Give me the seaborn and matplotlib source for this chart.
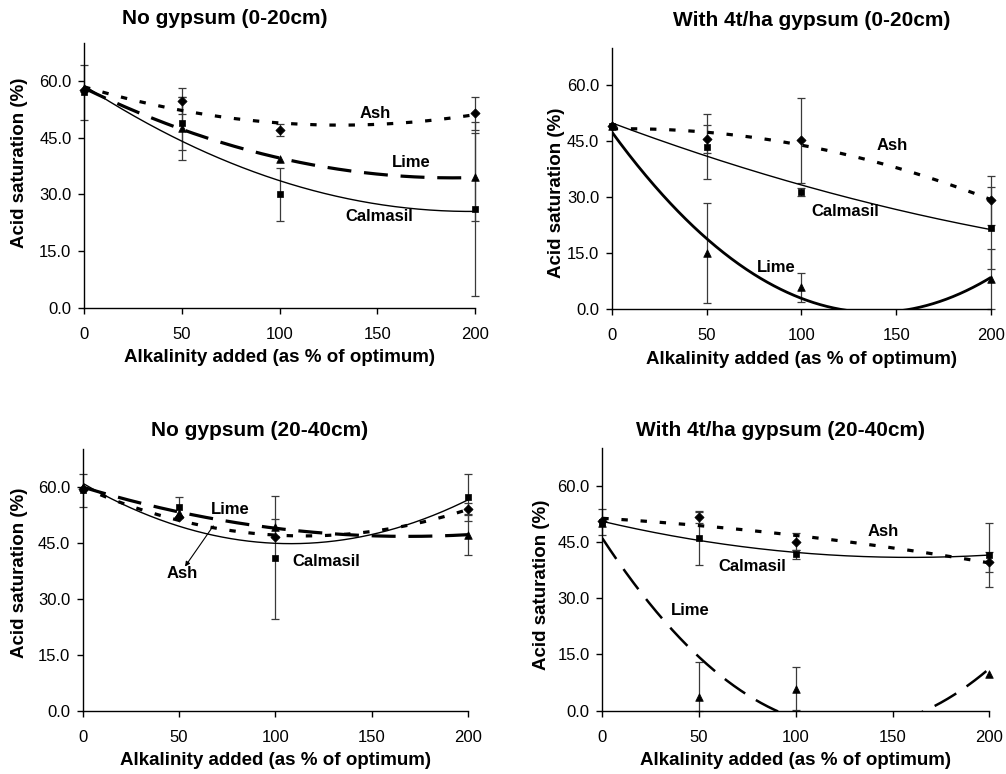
import numpy as np
import pandas as pd
import matplotlib
matplotlib.use("Agg")
import matplotlib.pyplot as plt
import seaborn as sns

# ---------------------------------------------------------------- data
alkalinity = [0, 50, 100, 200]          # % of optimum alkalinity added
y_ticks = [0, 15, 30, 45, 60]
x_ticks = [0, 50, 100, 150, 200]

# No gypsum, 0-20 cm
ng_top_ash = [57.5, 54.7, 47.0, 51.4]
ng_top_ash_err = [0.0, 3.5, 1.5, 4.4]
ng_top_lime = [58.0, 47.5, 39.4, 34.5]
ng_top_lime_err = [0.0, 8.3, 0.0, 11.6]
ng_top_calm = [57.0, 48.8, 30.1, 26.1]
ng_top_calm_err = [7.3, 7.0, 7.0, 23.0]

# With 4 t/ha gypsum, 0-20 cm
g_top_ash = [49.0, 45.6, 45.3, 29.1]
g_top_ash_err = [0.0, 3.7, 11.4, 6.7]
g_top_lime = [49.0, 15.0, 5.8, 8.0]
g_top_lime_err = [0.0, 13.3, 3.8, 8.0]
g_top_calm = [49.0, 43.5, 31.4, 21.6]
g_top_calm_err = [0.0, 8.7, 1.0, 11.0]

# No gypsum, 20-40 cm
ng_sub_ash = [59.5, 51.8, 46.4, 54.0]
ng_sub_ash_err = [0.0, 0.0, 0.0, 1.5]
ng_sub_lime = [60.0, 52.9, 49.1, 47.1]
ng_sub_lime_err = [0.0, 0.0, 2.3, 5.5]
ng_sub_calm = [59.0, 54.5, 41.0, 57.1]
ng_sub_calm_err = [4.4, 2.8, 16.5, 6.3]

# With 4 t/ha gypsum, 20-40 cm
g_sub_ash = [50.5, 51.6, 45.1, 39.7]
g_sub_ash_err = [0.0, 1.6, 2.2, 2.6]
g_sub_lime = [50.0, 3.7, 5.9, 9.9]
g_sub_lime_err = [0.0, 9.2, 5.8, 0.0]
g_sub_calm = [50.3, 46.0, 41.8, 41.6]
g_sub_calm_err = [3.4, 7.0, 1.2, 8.5]

titles = ["No gypsum (0-20cm)", "With 4t/ha gypsum (0-20cm)",
          "No gypsum (20-40cm)", "With 4t/ha gypsum (20-40cm)"]
x_title = "Alkalinity added (as % of optimum)"
y_title = "Acid saturation (%)"

# ---------------------------------------------------------------- styling
sns.set_style("ticks")
plt.rcParams["font.family"] = ["Liberation Sans", "DejaVu Sans"]
plt.rcParams["text.color"] = "black"
plt.rcParams["axes.labelcolor"] = "black"
plt.rcParams["xtick.color"] = "black"
plt.rcParams["ytick.color"] = "black"
plt.rcParams["lines.solid_capstyle"] = "butt"
plt.rcParams["lines.dash_capstyle"] = "butt"

W, H = 1006, 774
fig = plt.figure(figsize=(W / 100, H / 100), dpi=100)
fig.patch.set_facecolor("white")

markers = {"Ash": "D", "Lime": "^", "Calmasil": "s"}
marker_size = {"Ash": 22, "Lime": 30, "Calmasil": 24}

panels = [
    dict(box=(84, 43, 475, 308), title_xy=(225, 18),
         values={"Ash": (ng_top_ash, ng_top_ash_err),
                 "Lime": (ng_top_lime, ng_top_lime_err),
                 "Calmasil": (ng_top_calm, ng_top_calm_err)},
         styles={"Ash": dict(lw=2.3, ls=(0, (2.0, 4.0))),
                 "Lime": dict(lw=2.3, ls=(0, (7.5, 4.0))),
                 "Calmasil": dict(lw=1.0, ls="-")},
         labels={"Ash": (148.8, 51.5), "Lime": (167.6, 38.4),
                 "Calmasil": (151.0, 24.1)},
         ylab=(20, 162.5)),
    dict(box=(611.7, 48, 991, 309), title_xy=(812, 21),
         values={"Ash": (g_top_ash, g_top_ash_err),
                 "Lime": (g_top_lime, g_top_lime_err),
                 "Calmasil": (g_top_calm, g_top_calm_err)},
         styles={"Ash": dict(lw=2.3, ls=(0, (2.0, 4.0))),
                 "Lime": dict(lw=2.0, ls="-"),
                 "Calmasil": dict(lw=1.0, ls="-")},
         labels={"Ash": (148.0, 43.8), "Lime": (86.6, 11.2),
                 "Calmasil": (123.4, 26.2)},
         ylab=(556.7, 193)),
    dict(box=(82.7, 449.3, 468, 710.7), title_xy=(260, 431),
         values={"Ash": (ng_sub_ash, ng_sub_ash_err),
                 "Lime": (ng_sub_lime, ng_sub_lime_err),
                 "Calmasil": (ng_sub_calm, ng_sub_calm_err)},
         styles={"Ash": dict(lw=2.3, ls=(0, (2.0, 4.0))),
                 "Lime": dict(lw=2.3, ls=(0, (7.5, 4.0))),
                 "Calmasil": dict(lw=1.0, ls="-")},
         labels={"Ash": (51.7, 36.8), "Lime": (76.8, 53.8),
                 "Calmasil": (126.6, 39.9)},
         arrow=((67.8, 49.5), (53.1, 38.6)),
         ylab=(20, 572.5)),
    dict(box=(602.3, 448.3, 989.3, 710.7), title_xy=(780, 430),
         values={"Ash": (g_sub_ash, g_sub_ash_err),
                 "Lime": (g_sub_lime, g_sub_lime_err),
                 "Calmasil": (g_sub_calm, g_sub_calm_err)},
         styles={"Ash": dict(lw=2.3, ls=(0, (2.0, 4.0))),
                 "Lime": dict(lw=1.8, ls=(0, (10.0, 5.0))),
                 "Calmasil": dict(lw=1.0, ls="-")},
         labels={"Ash": (145.2, 47.8), "Lime": (45.3, 26.8),
                 "Calmasil": (77.5, 38.6)},
         ylab=(541.7, 585)),
]

x_curve = np.linspace(0, 200, 401)

for p, title in zip(panels, titles):
    left, top, right, bottom = p["box"]
    ax = fig.add_axes([left / W, 1 - bottom / H, (right - left) / W, (bottom - top) / H])
    ax.set_facecolor("white")

    rows = []
    for name, (vals, errs) in p["values"].items():
        for xv, yv, ev in zip(alkalinity, vals, errs):
            rows.append({"alkalinity": xv, "acid": yv, "err": ev, "treatment": name})
    df = pd.DataFrame(rows)

    # error bars (lower arm stops at the axis floor)
    for name, sub in df.groupby("treatment", sort=False):
        lower = np.minimum(sub["err"].values, sub["acid"].values)
        upper = sub["err"].values
        keep = upper > 0
        if keep.any():
            ax.errorbar(sub["alkalinity"].values[keep], sub["acid"].values[keep],
                        yerr=[lower[keep], upper[keep]], fmt="none",
                        ecolor="#3a3a3a", elinewidth=0.9, capsize=3.2,
                        capthick=0.9, clip_on=False, zorder=2)

    # second-order polynomial trend line for each treatment
    for name, sub in df.groupby("treatment", sort=False):
        coef = np.polyfit(sub["alkalinity"], sub["acid"], 2)
        st = p["styles"][name]
        sns.lineplot(x=x_curve, y=np.polyval(coef, x_curve), ax=ax, color="black",
                     linewidth=st["lw"], linestyle=st["ls"], zorder=3)

    # measured means
    for name, sub in df.groupby("treatment", sort=False):
        sns.scatterplot(data=sub, x="alkalinity", y="acid", ax=ax,
                        marker=markers[name], s=marker_size[name], color="black",
                        edgecolor="black", linewidth=0.5, legend=False,
                        clip_on=False, zorder=4)

    for name, (lx, ly) in p["labels"].items():
        ax.text(lx, ly, name, ha="center", va="center", fontsize=12,
                fontweight="bold", color="black", zorder=6)
    if "arrow" in p:
        (x0, y0), (x1, y1) = p["arrow"]
        ax.annotate("", xy=(x1, y1), xytext=(x0, y0),
                    arrowprops=dict(arrowstyle="-|>", color="black", lw=0.8,
                                    mutation_scale=7, shrinkA=0, shrinkB=0))

    ax.set_xlim(0, 200)
    ax.set_ylim(0, 70)
    ax.set_xticks(x_ticks)
    ax.set_yticks(y_ticks)
    ax.set_yticklabels([f"{v:.1f}" for v in y_ticks])
    sns.despine(ax=ax)
    for s in ("left", "bottom"):
        ax.spines[s].set_color("black")
        ax.spines[s].set_linewidth(1.0)
    ax.tick_params(axis="both", direction="out", length=4, width=1.0,
                   color="black", labelsize=12, labelcolor="black")
    ax.tick_params(axis="x", pad=10)
    ax.tick_params(axis="y", pad=5)
    ax.grid(False)

    ax.set_xlabel(x_title, fontsize=13.5, fontweight="bold", color="black")
    ax.xaxis.set_label_coords(0.5, -50 / (bottom - top))
    ax.xaxis.label.set_va("center")
    ax.set_ylabel(y_title, fontsize=13.5, fontweight="bold", color="black")
    lx, ly = p["ylab"]
    ax.yaxis.set_label_coords((lx - left) / (right - left), (bottom - ly) / (bottom - top))
    ax.yaxis.label.set_va("center")

    tx, ty = p["title_xy"]
    fig.text(tx / W, 1 - ty / H, title, ha="center", va="center",
             fontsize=15, fontweight="bold", color="black")

fig.savefig("out.png", dpi=100, facecolor="white")
